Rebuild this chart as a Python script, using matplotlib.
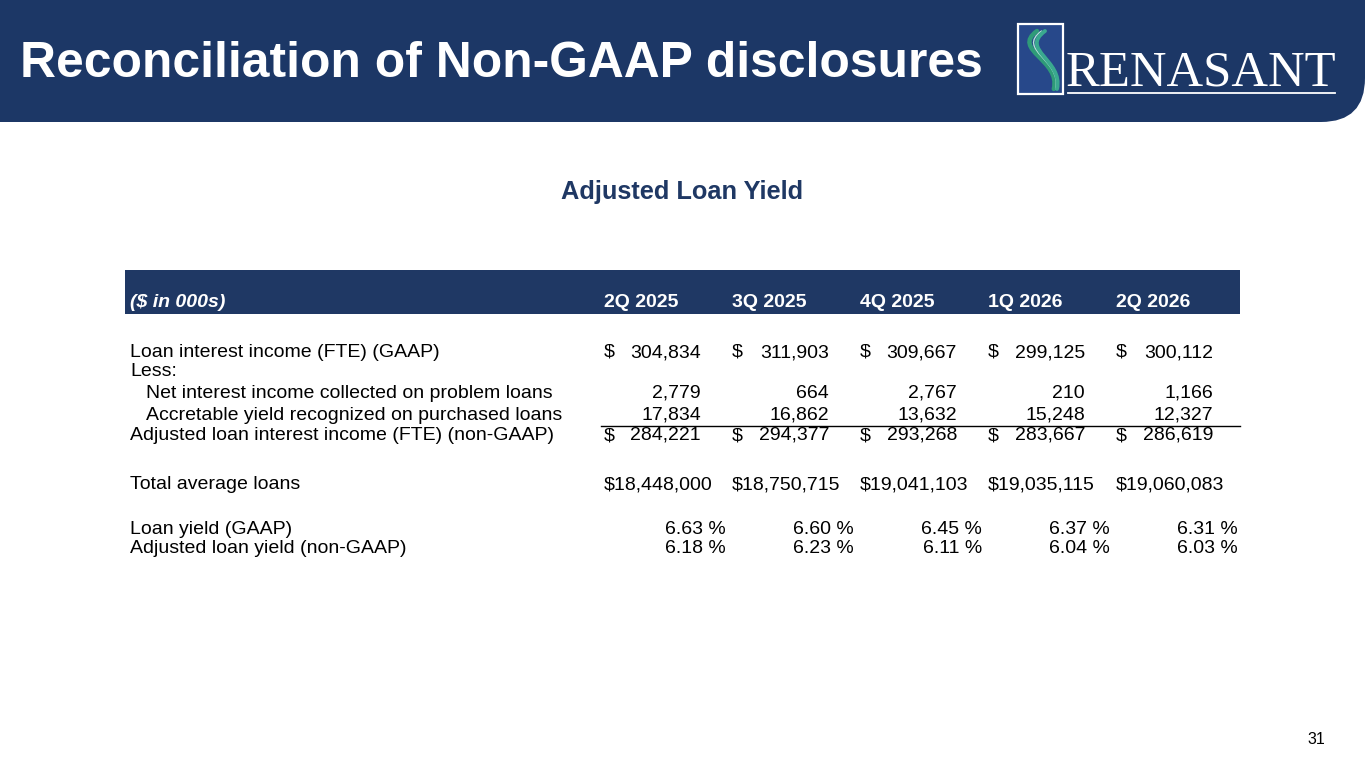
"""Slide 31: Reconciliation of Non-GAAP disclosures -- Adjusted Loan Yield table."""
import matplotlib
matplotlib.use("Agg")
import matplotlib.pyplot as plt
from matplotlib.patches import FancyBboxPatch, Rectangle, PathPatch
from matplotlib.path import Path

NAVY = "#1c3766"
HEAD = "#1f3864"
SANS = ["Liberation Sans", "DejaVu Sans"]

# ---- data ---------------------------------------------------------------
quarters = ["2Q 2025", "3Q 2025", "4Q 2025", "1Q 2026", "2Q 2026"]
loan_interest_income = ["304,834", "311,903", "309,667", "299,125", "300,112"]
problem_loans = ["2,779", "664", "2,767", "210", "1,166"]
accretable_yield = ["17,834", "16,862", "13,632", "15,248", "12,327"]
adjusted_income = ["284,221", "294,377", "293,268", "283,667", "286,619"]
avg_loans = ["18,448,000", "18,750,715", "19,041,103", "19,035,115", "19,060,083"]
loan_yield = [6.63, 6.60, 6.45, 6.37, 6.31]
adj_loan_yield = [6.18, 6.23, 6.11, 6.04, 6.03]

fig = plt.figure(figsize=(13.65, 7.68), dpi=100)
ax = fig.add_axes([0, 0, 1, 1])
ax.set_xlim(0, 1365)
ax.set_ylim(768, 0)
ax.axis("off")

# banner with rounded bottom-right corner
ax.add_patch(FancyBboxPatch((-200, -200), 1565, 322,
                            boxstyle="round,pad=0,rounding_size=44",
                            fc=NAVY, ec="none"))
ax.text(20, 77, "Reconciliation of Non-GAAP disclosures", color="white",
        fontsize=35.8, fontweight="bold", family=SANS, va="baseline", ha="left")

# logo: framed box with swoosh + wordmark
ax.add_patch(Rectangle((1018, 24), 45, 70, fc="#27488a", ec="white", lw=1.6))
for dx, c, w in [(-3, "#2f9b78", 3.2), (1.5, "#b5e2d6", 1.0), (5, "#3aa98f", 2.8)]:
    p = Path([(1040 + dx, 31), (1014 + dx, 50), (1062 + dx * 0.3, 60), (1055 + dx * 0.4, 89)],
             [Path.MOVETO, Path.CURVE4, Path.CURVE4, Path.CURVE4])
    ax.add_patch(PathPatch(p, fc="none", ec=c, lw=w, capstyle="round"))
ax.text(1066, 85, "RENASANT", color="white", fontsize=36.5,
        family=["Liberation Serif", "DejaVu Serif"], va="baseline", ha="left")
ax.plot([1068, 1335], [93, 93], color="white", lw=1.3)

# subtitle
ax.text(682, 199, "Adjusted Loan Yield", color=HEAD, fontsize=18.3,
        fontweight="bold", family=SANS, ha="center", va="baseline")

# table header band
fs = 14
ax.add_patch(Rectangle((125, 270), 1115, 44, fc=HEAD, ec="none"))
ax.text(130, 307, "($ in 000s)", color="white", fontsize=fs, fontweight="bold",
        style="italic", family=SANS, va="baseline")
col_left = [604 + 128 * i for i in range(len(quarters))]
col_right = [c + 97 for c in col_left]
for x, q in zip(col_left, quarters):
    ax.text(x, 307, q, color="white", fontsize=fs, fontweight="bold",
            family=SANS, va="baseline")


def label(y, s, x=130):
    ax.text(x, y, s, fontsize=fs, family=SANS, va="baseline", color="black")


def dollar_row(y, vals, sign):
    for xl, xr, v in zip(col_left, col_right, vals):
        if sign:
            ax.text(xl, y, "$", fontsize=fs, family=SANS, va="baseline")
        ax.text(xr, y, v, fontsize=fs, family=SANS, va="baseline", ha="right")


label(357, "Loan interest income (FTE) (GAAP)")
dollar_row(357, loan_interest_income, True)
label(376, "Less:")
label(398, "Net interest income collected on problem loans", x=146)
dollar_row(398, problem_loans, False)
label(420, "Accretable yield recognized on purchased loans", x=146)
dollar_row(420, accretable_yield, False)
ax.plot([601, 1240], [425.5, 425.5], color="black", lw=1)
label(440, "Adjusted loan interest income (FTE) (non-GAAP)")
dollar_row(440, adjusted_income, True)

label(489, "Total average loans")
for xl, v in zip(col_left, avg_loans):
    ax.text(xl, 489, "$" + v, fontsize=fs, family=SANS, va="baseline")

label(534, "Loan yield (GAAP)")
label(553, "Adjusted loan yield (non-GAAP)")
for xr, a, b in zip(col_right, loan_yield, adj_loan_yield):
    ax.text(xr + 25, 534, f"{a:.2f} %", fontsize=fs, family=SANS, va="baseline", ha="right")
    ax.text(xr + 25, 553, f"{b:.2f} %", fontsize=fs, family=SANS, va="baseline", ha="right")

ax.text(1316, 744, "31", fontsize=11.5, family=SANS, ha="center", va="baseline")

fig.savefig("out.png", dpi=100)
